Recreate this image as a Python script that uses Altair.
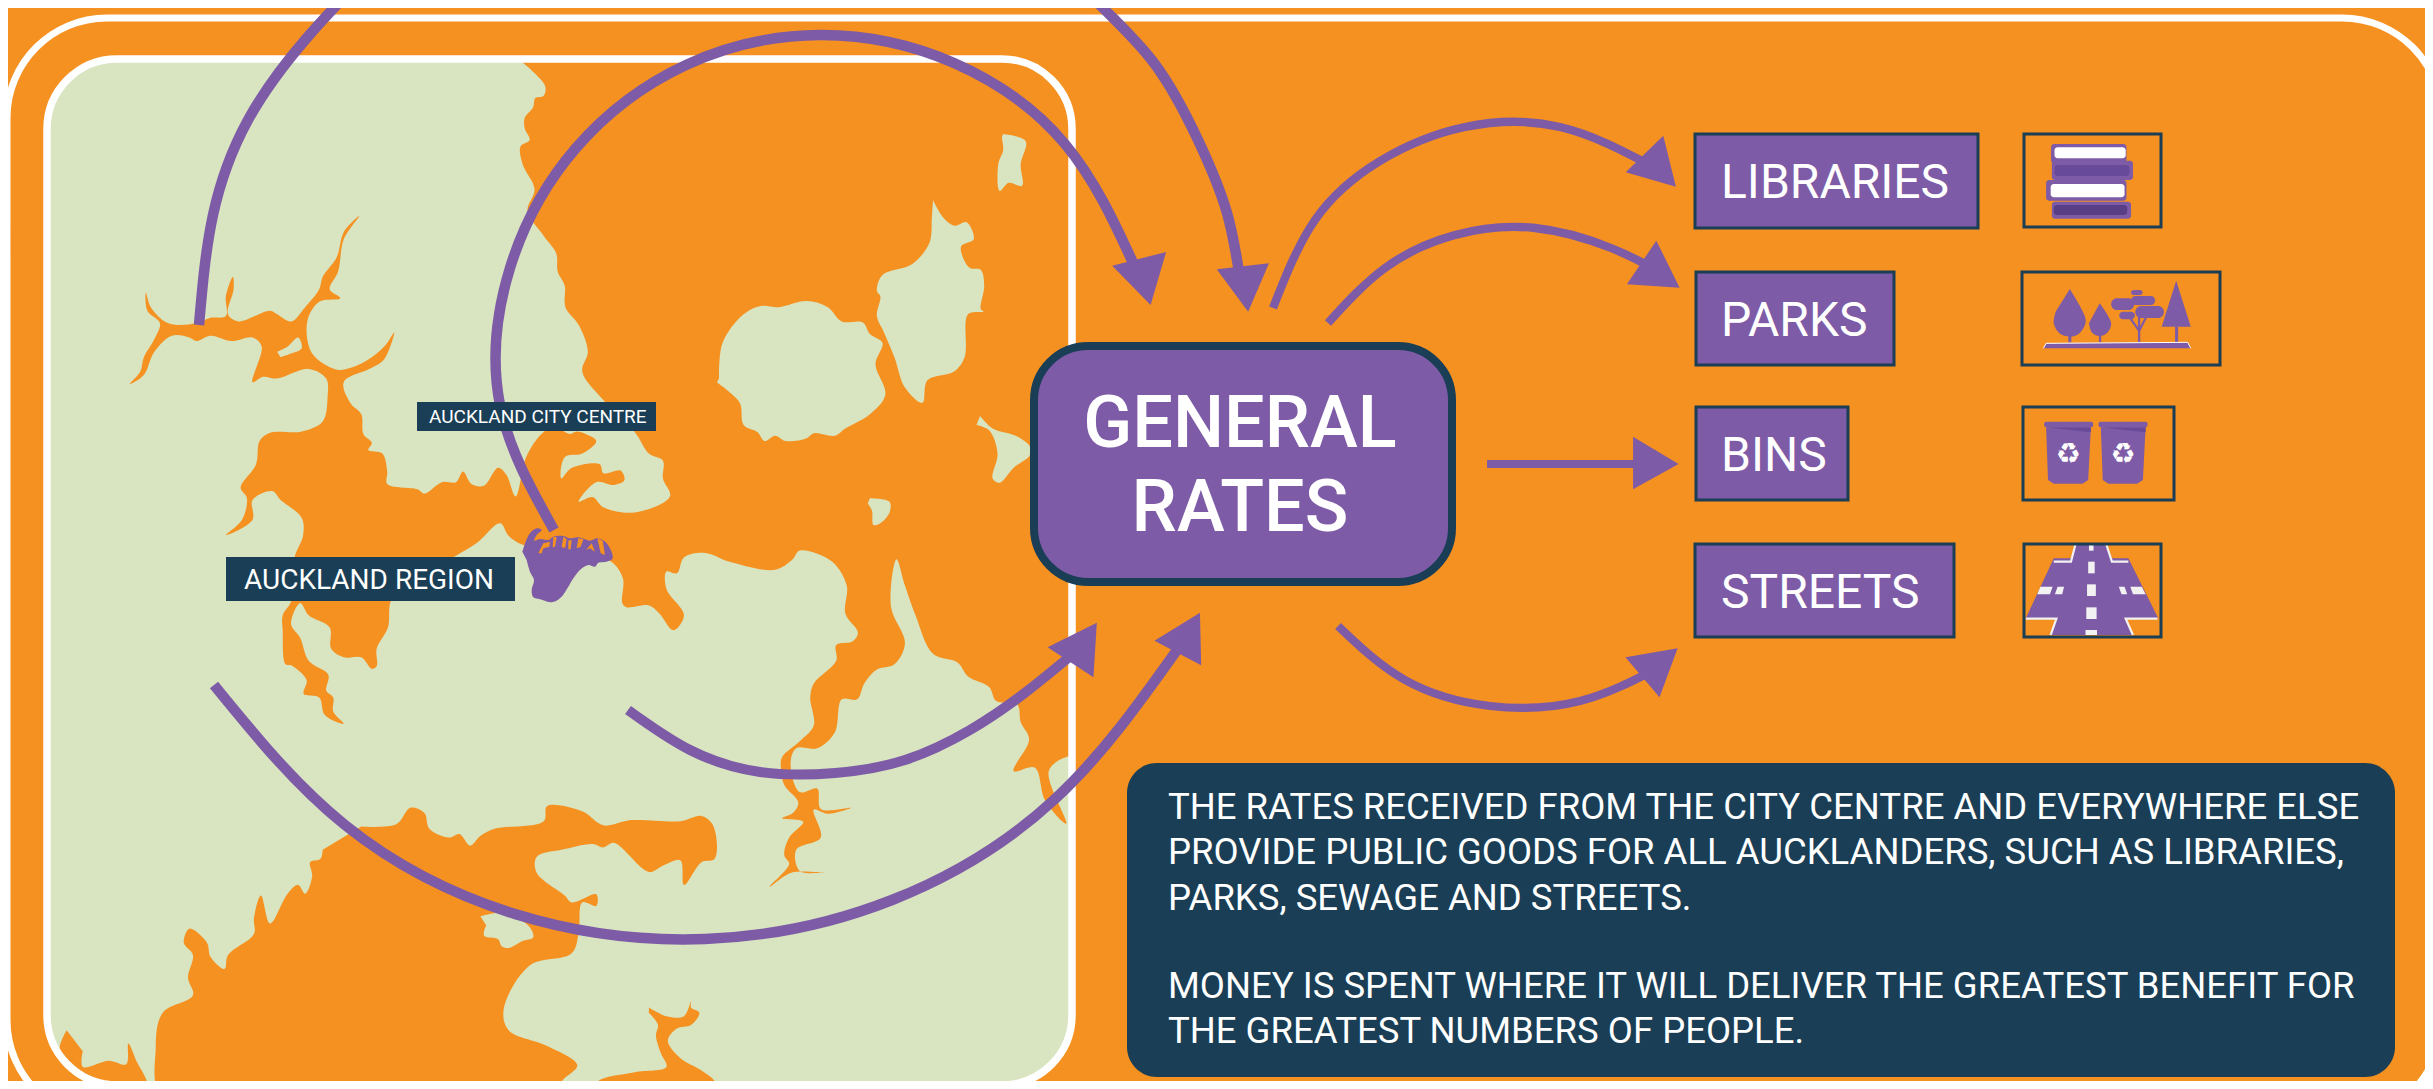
import altair as alt
import pandas as pd

W, H = 2433, 1089
MARGIN = 8
ORANGE, GREEN, PURPLE, DARK, WHITE = "#F59120", "#D9E4C0", "#7D5BA6", "#1A3E55", "#FFFFFF"
FONT = "Roboto"


# readings were taken from crops of the picture: each helper turns crop readings into picture pixels
def a(p):
    return [(x / 1.4255, y / 2.8) for x, y in p]


def b(p):
    return [(x / 1.4255, 540 + y / 2.856) for x, y in p]


def c(p):
    return [(1650 + x / 2.613, 110 + y / 3) for x, y in p]


def d(p):
    return [(1650 + x / 2.613, 380 + y / 3) for x, y in p]


def e(p):
    return [(1060 + x / 2.45, y / 3) for x, y in p]


def f(p):
    return [(1040 + x / 2.376, 590 + y / 3) for x, y in p]


def g(p):
    return [(510 + x / 3, 510 + y / 3) for x, y in p]


# ---- coast lines -----------------------------------------------------------
sea_east_coast = [(745, 175), (777, 240), (775, 268), (763, 275), (760, 300), (748, 330), (748, 360), (755, 392),
                  (742, 410), (745, 460), (762, 530), (752, 590), (775, 660), (793, 710), (795, 760), (805, 800),
                  (806, 860), (825, 910), (838, 985), (830, 1040), (860, 1120), (905, 1210), (925, 1270), (945, 1290),
                  (945, 1340), (955, 1390), (905, 1435), (860, 1420), (845, 1392), (825, 1405), (850, 1350),
                  (875, 1358), (890, 1345), (885, 1318), (860, 1325), (855, 1300), (815, 1310), (800, 1340),
                  (805, 1280), (830, 1270), (850, 1235), (835, 1215), (822, 1208), (812, 1215), (790, 1195),
                  (772, 1215), (750, 1280), (735, 1390), (722, 1330), (710, 1310), (690, 1360), (672, 1355),
                  (660, 1320), (650, 1350), (630, 1350), (605, 1382), (595, 1370), (552, 1355), (552, 1320),
                  (545, 1270), (525, 1260), (530, 1240), (518, 1215), (515, 1160), (500, 1130), (490, 1070),
                  (530, 1030), (548, 1005), (562, 930), (550, 965), (530, 1000), (500, 1030), (480, 1035),
                  (445, 990), (438, 900), (455, 845), (485, 835), (470, 810), (482, 760), (490, 670), (512, 605),
                  (490, 650), (480, 720), (460, 775), (455, 810), (435, 860), (415, 900), (395, 880), (385, 870),
                  (340, 900), (325, 880), (333, 810), (332, 775), (322, 830), (322, 885), (300, 890), (280, 905),
                  (240, 905), (215, 860), (208, 820), (210, 870), (228, 905), (220, 950), (205, 1000), (200, 1040),
                  (185, 1075), (205, 1050), (220, 985), (245, 940), (270, 945), (280, 955), (300, 940), (330, 955),
                  (360, 945), (373, 970), (360, 1070), (375, 1055), (395, 1060), (440, 1033), (465, 1060),
                  (467, 1110), (460, 1180), (430, 1208), (385, 1212), (370, 1235), (365, 1300), (343, 1365),
                  (352, 1395), (345, 1455), (322, 1498), (360, 1455), (360, 1400), (388, 1375), (400, 1400),
                  (430, 1450), (432, 1500), (420, 1560)]
sea_manukau = [(415, 175), (403, 215), (403, 260), (407, 355), (415, 358), (437, 400), (433, 440), (455, 450),
               (463, 500), (490, 525), (475, 490), (475, 450), (465, 430), (468, 385), (440, 345), (428, 280),
               (415, 240), (428, 180), (440, 215), (470, 250), (472, 310), (490, 335), (515, 335), (530, 368),
               (537, 360), (537, 310), (553, 250), (558, 170), (590, 110), (650, 45)]
sea_isthmus = [(680, 1520), (713, 1465), (725, 1500), (745, 1525), (800, 1530)]
sea_south_coast = [(870, 60), (888, 110), (887, 180), (893, 192), (925, 187), (940, 210), (960, 258), (975, 215),
                   (950, 140), (950, 90), (965, 95), (975, 50), (1005, 37), (1040, 62), (1105, 85), (1130, 55),
                   (1140, 30), (1185, 60), (1207, 130), (1205, 210), (1223, 265), (1215, 290), (1192, 300),
                   (1192, 345), (1160, 410), (1155, 450), (1160, 530), (1140, 575), (1115, 620), (1113, 650),
                   (1118, 700), (1138, 750), (1130, 780), (1115, 795), (1145, 805), (1125, 850), (1118, 900),
                   (1125, 925), (1097, 990), (1128, 950), (1175, 950), (1140, 945), (1135, 885), (1170, 850),
                   (1160, 770), (1180, 782), (1213, 765), (1170, 768), (1165, 710), (1140, 720), (1127, 640),
                   (1135, 595), (1165, 595), (1190, 550), (1200, 455), (1222, 455), (1232, 410), (1250, 370),
                   (1275, 355), (1290, 295), (1270, 190), (1278, 55), (1290, 130), (1305, 215), (1330, 325),
                   (1365, 350), (1380, 390), (1410, 420), (1420, 460), (1450, 470), (1455, 520), (1467, 570),
                   (1445, 660), (1475, 650), (1490, 745), (1520, 810), (1495, 660), (1520, 620), (1560, 620)]
sea_outer_corners = [(1094, 300), (1094, 45), (800, 45), (523, 45)]
sea_south = [(515, 818), (565, 812), (585, 765), (605, 780), (612, 825), (640, 850), (655, 840), (670, 873),
             (685, 845), (705, 825), (775, 803), (780, 760), (830, 775), (860, 815), (900, 800), (970, 803),
             (1000, 788), (1015, 810), (1022, 870), (1018, 912), (1000, 920), (975, 985), (970, 915), (945, 930),
             (925, 948), (875, 865), (860, 878), (845, 868), (800, 885), (765, 905), (765, 950), (805, 1015),
             (815, 1035), (850, 1012), (850, 1045), (830, 1035), (825, 1120), (815, 1180), (755, 1215), (718, 1340),
             (725, 1400), (780, 1445), (823, 1500), (800, 1550), (800, 1600), (235, 1600), (222, 1450), (232, 1350),
             (275, 1300), (268, 1250), (275, 1185), (262, 1150), (270, 1110), (295, 1150), (300, 1190), (320, 1225),
             (325, 1185), (362, 1125), (362, 1080), (372, 1015), (385, 1095), (410, 1010), (425, 985), (435, 1010),
             (445, 960), (442, 920), (457, 910), (460, 885)]
sea_corner = [(95, 1400), (85, 1455), (100, 1510), (130, 1600), (210, 1600), (210, 1550), (195, 1490), (183, 1438),
              (180, 1497), (155, 1487), (118, 1505), (118, 1460)]
sea_bottom = [(925, 1335), (950, 1360), (975, 1360), (985, 1318), (985, 1335), (997, 1350), (985, 1385), (965, 1395),
              (952, 1430), (970, 1480), (1000, 1515), (1020, 1550), (1020, 1600), (850, 1600), (850, 1550),
              (905, 1520), (950, 1505), (942, 1465), (935, 1415), (938, 1385), (925, 1350)]

isle_top = [(1430, 375), (1462, 395), (1455, 460), (1457, 520), (1438, 512), (1425, 535), (1423, 460), (1430, 420),
            (1428, 385)]
isle_big = [(1025, 1060), (1030, 960), (1060, 880), (1085, 857), (1110, 860), (1150, 843), (1180, 860), (1200, 900),
            (1230, 903), (1240, 935), (1258, 960), (1248, 1020), (1262, 1105), (1240, 1160), (1205, 1200),
            (1190, 1220), (1160, 1213), (1150, 1227), (1120, 1235), (1105, 1220), (1090, 1235), (1080, 1210),
            (1060, 1190), (1055, 1130), (1038, 1095), (1022, 1070)]
isle_long = [(1330, 560), (1345, 610), (1360, 632), (1378, 622), (1388, 670), (1370, 690), (1382, 750), (1398, 755),
             (1403, 800), (1398, 865), (1402, 872), (1380, 880), (1375, 1000), (1360, 1040), (1322, 1065),
             (1315, 1128), (1290, 1085), (1275, 1000), (1260, 930), (1250, 885), (1255, 830), (1250, 815),
             (1258, 770), (1300, 740), (1325, 680), (1328, 620)]
isle_east = [(1397, 1165), (1415, 1200), (1450, 1222), (1468, 1250), (1468, 1275), (1445, 1310), (1425, 1352),
             (1415, 1340), (1422, 1270), (1410, 1205), (1392, 1190)]
isle_small = [(1240, 1395), (1268, 1405), (1268, 1435), (1255, 1465), (1245, 1470), (1243, 1430), (1237, 1410)]
isle_harbour = [(395, 985), (410, 970), (425, 945), (430, 975), (415, 990), (400, 1000)]
isle_south = [(685, 1075), (720, 1065), (755, 1105), (760, 1135), (745, 1145), (725, 1165), (715, 1160), (710, 1140),
              (690, 1130), (693, 1100)]

region = [(37, 125), (47, 95), (60, 70), (80, 55), (95, 60), (80, 75), (73, 92), (90, 87), (115, 90), (130, 80),
          (160, 78), (180, 85), (205, 82), (240, 92), (262, 85), (290, 100), (308, 145), (290, 155), (265, 158),
          (255, 170), (235, 165), (210, 180), (190, 205), (175, 230), (150, 265), (125, 277), (90, 268), (70, 262),
          (65, 240), (72, 210), (60, 185), (50, 150)]
region_cuts = [[(85, 130), (100, 100), (120, 95), (118, 110), (100, 115), (95, 130)],
               [(130, 80), (128, 112), (135, 110), (140, 82)],
               [(160, 80), (155, 110), (165, 115), (170, 88)],
               [(175, 92), (175, 118), (182, 118), (185, 90)],
               [(205, 85), (200, 115), (212, 110), (220, 88)],
               [(228, 120), (245, 100), (255, 125), (240, 115)],
               [(262, 85), (272, 130), (285, 135), (278, 92)]]

# ---- arrows, in picture pixels (evenly spaced along each curve) -----------------
arc_far_west = [(199, 325), (213, 215), (248, 120), (305, 40), (370, -30)]
arc_far_east = [(1040, -60), (1095, 0), (1154, 63), (1198, 140), (1227, 213), (1241, 285)]
arc_centre = [(554, 530), (500, 405), (510, 268), (576, 148), (686, 65), (820, 35), (954, 63), (1065, 144), (1134, 265)]
arc_south = [(214, 685), (345, 825), (515, 914), (705, 939), (892, 900), (1055, 799), (1177, 650)]
arc_inner = [(628, 710), (690, 750), (760, 772), (835, 773), (905, 760), (970, 730), (1026, 692), (1080, 648)]
arc_out_a = [(1273, 308), (1315, 220), (1380, 161), (1465, 127), (1560, 127), (1650, 165)]
arc_out_b = [(1328, 323), (1385, 268), (1455, 235), (1535, 228), (1611, 248), (1660, 272)]
arc_out_d = [(1338, 626), (1405, 680), (1490, 706), (1580, 701), (1660, 667)]
arc_widths = [10.5, 10.5, 10.5, 10.5, 10, 8.3, 8.3, 8.3]
heads = [e([(384, 808), (512, 790), (461, 935)]), e([(128, 797), (260, 756), (222, 915)]),
         e([(1478, 407), (1386, 517), (1509, 560)]), e([(1461, 722), (1389, 853), (1518, 863)]),
         f([(135, 98), (18, 172), (127, 262)]), f([(380, 68), (272, 152), (383, 226)]),
         f([(1515, 175), (1391, 202), (1472, 322)]),
         [(1000 + 1418 / 2.24, 300 + 410 / 3), (1000 + 1520 / 2.24, 300 + 492 / 3), (1000 + 1418 / 2.24, 300 + 568 / 3)]]
straight_arrow_x = [1487, 1640]
straight_arrow_y = [464, 464]

# ---- boxes: x, x2, y, y2 ---------------------------------------------------
frame_outer = (7, 2442, 18, 1120)
frame_panel = (47, 1072, 59, 1085)
general_box = (1034, 1452, 346, 582)
info_box = (1127, 2395, 763, 1077)
label_city = (417, 656, 402, 431)
label_region = (226, 515, 557, 601)
name_boxes = [(1695, 1978, 134, 228), (1696, 1894, 272, 365), (1696, 1848, 407, 500), (1695, 1954, 544, 637)]
icon_boxes = [(2024, 2161, 134, 227), (2022, 2220, 272, 365), (2023, 2174, 407, 500), (2024, 2161, 544, 637)]

name_labels = ["LIBRARIES", "PARKS", "BINS", "STREETS"]
name_x = [1721, 1721, 1721, 1721]
name_y = [198, 336, 471, 608]
headline = ["GENERAL", "RATES"]
headline_y = [447, 531]
info_lines = ["THE RATES RECEIVED FROM THE CITY CENTRE AND EVERYWHERE ELSE",
              "PROVIDE PUBLIC GOODS FOR ALL AUCKLANDERS, SUCH AS LIBRARIES,",
              "PARKS, SEWAGE AND STREETS.",
              "MONEY IS SPENT WHERE IT WILL DELIVER THE GREATEST BENEFIT FOR",
              "THE GREATEST NUMBERS OF PEOPLE."]
info_y = [819, 864, 910, 998, 1043]

# ---- icons (crop readings) ---------------------------------------------------
books = [((1048, 1245, 102, 160), PURPLE), ((1057, 1243, 112, 145), WHITE), ((1050, 1262, 152, 210), PURPLE),
         ((1057, 1253, 165, 198), "#684A9A"), ((1035, 1245, 210, 272), PURPLE), ((1047, 1240, 222, 262), WHITE),
         ((1050, 1257, 275, 326), PURPLE), ((1055, 1247, 285, 315), "#573E85")]
tree_round = [(1097, 537), (1135, 615), (1138, 640), (1120, 672), (1097, 680), (1070, 670), (1055, 640), (1060, 605)]
tree_small = [(1175, 580), (1205, 640), (1195, 668), (1175, 678), (1155, 668), (1147, 640)]
tree_tall = [(1375, 512), (1413, 650), (1337, 650)]
trunks = [((1093, 1101, 675, 697), PURPLE), ((1173, 1179, 675, 697), PURPLE), ((1372, 1380, 650, 697), PURPLE),
          ((1275, 1281, 620, 697), PURPLE)]
twigs = [[(1278, 662), (1255, 625)], [(1278, 662), (1297, 620)]]
canopies = [(1257, 1287, 540, 555), (1205, 1265, 565, 600), (1257, 1320, 558, 585), (1268, 1343, 588, 624),
            (1226, 1267, 605, 628)]
ground = [(1028, 715), (1035, 700), (1405, 697), (1413, 715)]
bin_bodies = [[(1035, 142), (1152, 142), (1145, 300), (1130, 311), (1055, 311), (1040, 300)],
              [(1178, 142), (1295, 142), (1288, 300), (1273, 311), (1198, 311), (1183, 300)]]
bin_shades = [[(1035, 142), (1152, 142), (1152, 157)], [(1178, 142), (1295, 142), (1295, 157)]]
bin_lids = [(1030, 1158, 125, 142), (1172, 1300, 125, 142)]
bin_signs_x = [1093, 1236]
bin_signs_y = [250, 250]
road = [(1112, 492), (1192, 492), (1207, 535), (1250, 535), (1328, 715), (1240, 715), (1262, 765), (1045, 765),
        (1062, 715), (982, 715), (1055, 535), (1100, 535)]
road_edges = [[(1112, 492), (1100, 545), (1055, 545)], [(1192, 492), (1207, 545), (1250, 545)],
              [(982, 716), (1062, 716), (1047, 765)], [(1326, 716), (1243, 716), (1262, 765)]]
road_centre = [(1147, 1159, 492, 512), (1145, 1162, 545, 580), (1142, 1165, 613, 648), (1140, 1167, 682, 717),
               (1138, 1168, 750, 765)]
road_dashes = [[(1020, 620), (1052, 620), (1045, 643), (1012, 643)], [(1065, 620), (1082, 620), (1077, 643), (1058, 643)],
               [(1225, 620), (1240, 620), (1247, 643), (1232, 643)], [(1255, 620), (1285, 620), (1295, 643), (1262, 643)]]

# the page keeps an 8px margin on every side: the scales show only the part of the picture inside it
X = alt.X("x:Q", scale=alt.Scale(domain=[MARGIN, W - MARGIN], nice=False, zero=False), axis=None)
Y = alt.Y("y:Q", scale=alt.Scale(domain=[H - MARGIN, MARGIN], nice=False, zero=False), axis=None)


def rows(polys):
    out = []
    for pid, pts in enumerate(polys):
        for i, (x, y) in enumerate(pts):
            out.append({"x": x, "y": y, "pid": pid, "i": i})
    return pd.DataFrame(out)


def shape(polys, fill, interp="catmull-rom", stroke=None, sw=0.0):
    return alt.Chart(rows(polys)).mark_line(
        fill=fill, stroke=stroke or fill, strokeWidth=sw, interpolate=interp, clip=True
    ).encode(x=X, y=Y, detail="pid:N", order="i:Q")


def path(pts, color, sw, interp="natural"):
    return alt.Chart(rows([pts])).mark_line(
        stroke=color, strokeWidth=sw, interpolate=interp, clip=True, strokeCap="butt", strokeJoin="miter"
    ).encode(x=X, y=Y, detail="pid:N", order="i:Q")


def box(bx, fill="transparent", stroke=None, sw=0.0, radius=0):
    df = pd.DataFrame([{"x": bx[0], "x2": bx[1], "y": bx[2], "y2": bx[3]}])
    kw = {"fill": fill, "clip": True, "cornerRadius": radius}
    if stroke:
        kw.update(stroke=stroke, strokeWidth=sw)
    return alt.Chart(df).mark_rect(**kw).encode(x=X, x2="x2:Q", y=Y, y2="y2:Q")


def box_c(bx, conv, fill, radius=0):
    (x0, y0), (x1, y1) = conv([(bx[0], bx[2]), (bx[1], bx[3])])
    return box((x0, x1, y0, y1), fill=fill, radius=radius)


def label(xs, ys, texts, size, font=FONT, align="left", color=WHITE, weight="normal"):
    df = pd.DataFrame({"x": xs, "y": ys, "t": texts})
    return alt.Chart(df).mark_text(
        align=align, baseline="alphabetic", fontSize=size, font=font, color=color, fontWeight=weight
    ).encode(x=X, y=Y, text="t:N")


layers = [box(frame_outer, stroke=WHITE, sw=7, radius=100),
          box(frame_panel, fill=GREEN, radius=70)]

main_sea = a(sea_east_coast) + b(sea_manukau) + a(sea_isthmus) + b(sea_south_coast) + sea_outer_corners
layers.append(shape([main_sea, b(sea_south), b(sea_corner), b(sea_bottom)], ORANGE))
layers.append(shape([a(isle_top), a(isle_big), a(isle_long), a(isle_east), a(isle_small), a(isle_harbour),
                     b(isle_south)], GREEN))
layers.append(box(frame_panel, stroke=WHITE, sw=7.5, radius=70))
layers.append(shape([g(region)], PURPLE))
layers.append(shape([g(p) for p in region_cuts], ORANGE, interp="linear"))

all_arcs = [arc_far_west, arc_far_east, arc_centre, arc_south, arc_inner, arc_out_a, arc_out_b, arc_out_d]
for pts, w in zip(all_arcs, arc_widths):
    layers.append(path(pts, PURPLE, w))
layers.append(path(list(zip(straight_arrow_x, straight_arrow_y)), PURPLE, 8, interp="linear"))
layers.append(shape(heads, PURPLE, interp="linear"))

layers.append(box(general_box, fill=PURPLE, stroke=DARK, sw=8, radius=54))
layers.append(box(info_box, fill=DARK, radius=30))
layers.append(box(label_city, fill=DARK))
layers.append(box(label_region, fill=DARK))
for bx in name_boxes:
    layers.append(box(bx, fill=PURPLE, stroke=DARK, sw=3))

# icons
for bx, col in books:
    layers.append(box_c(bx, c, col, radius=3))
layers.append(shape([c(tree_round), c(tree_small)], PURPLE))
layers.append(shape([c(tree_tall)], PURPLE, interp="linear"))
for bx, col in trunks:
    layers.append(box_c(bx, c, col))
for tw in twigs:
    layers.append(path(c(tw), PURPLE, 2.2, interp="linear"))
for bx in canopies:
    layers.append(box_c(bx, c, PURPLE, radius=6))
layers.append(shape([c(ground)], PURPLE, interp="linear", stroke=WHITE, sw=1))
layers.append(shape([d(p) for p in bin_bodies], PURPLE, interp="linear"))
layers.append(shape([d(p) for p in bin_shades], "#684A9A", interp="linear"))
for bx in bin_lids:
    layers.append(box_c(bx, d, PURPLE, radius=2))
sign_pts = d(list(zip(bin_signs_x, bin_signs_y)))
layers.append(label([p[0] for p in sign_pts], [p[1] for p in sign_pts], ["♻", "♻"], 28, font="DejaVu Sans", align="center"))
layers.append(shape([d(road)], PURPLE, interp="linear"))
for p in road_edges:
    layers.append(path(d(p), "#F2F2F2", 2.2, interp="linear"))
for bx in road_centre:
    layers.append(box_c(bx, d, "#F2F2F2"))
layers.append(shape([d(p) for p in road_dashes], "#F2F2F2", interp="linear"))
for bx in icon_boxes:
    layers.append(box(bx, stroke=DARK, sw=3))

layers.append(label(name_x, name_y, name_labels, 48))
layers.append(label([1240, 1240], headline_y, headline, 72, align="center", weight=500))
layers.append(label([1168] * 5, info_y, info_lines, 36.5))
layers.append(label([429], [423], ["AUCKLAND CITY CENTRE"], 19))
layers.append(label([244], [589], ["AUCKLAND REGION"], 28))

chart = alt.layer(*layers).properties(
    width=W - 2 * MARGIN, height=H - 2 * MARGIN, padding=0, background=ORANGE,
    autosize=alt.AutoSizeParams(type="none"),
).configure_view(stroke=None)

chart.save("out.html", embed_options={"renderer": "svg", "actions": False})
